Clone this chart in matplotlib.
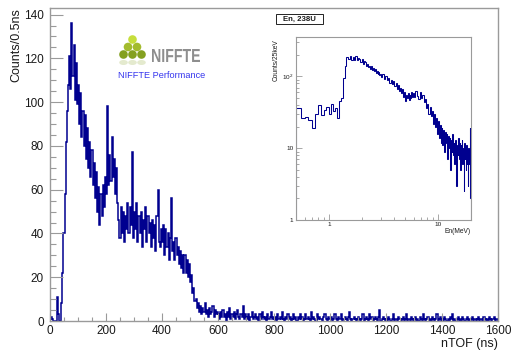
import numpy as np
import matplotlib
matplotlib.use("Agg")
import matplotlib.pyplot as plt
from matplotlib.patches import Circle, Ellipse, Rectangle, PathPatch
from matplotlib.textpath import TextPath
from matplotlib.font_manager import FontProperties
from matplotlib.transforms import Affine2D
from matplotlib.ticker import MultipleLocator, FixedLocator, FixedFormatter, NullFormatter

plt.rcParams['font.family'] = ['Liberation Sans', 'DejaVu Sans']
plt.rcParams['mathtext.fontset'] = 'custom'
plt.rcParams['mathtext.rm'] = 'Liberation Sans'

# ---------------- nTOF spectrum (4 ns bins, Counts/0.5ns scale) ----------------
tof_bin_ns = 4.0
tof_0_200 = [1, 2, 1, 0, 0, 0, 11, 3, 0, 0,
             8, 22, 40, 58, 82, 96, 108, 121, 106, 136,
             112, 126, 101, 118, 99, 108, 90, 104, 84, 96,
             80, 94, 74, 88, 70, 82, 66, 78, 62, 72,
             56, 68, 50, 61, 44, 58, 48, 62, 52, 66]
tof_200_400 = [58, 98, 62, 76, 64, 84, 66, 74, 58, 70,
               54, 46, 38, 52, 40, 50, 36, 48, 42, 54,
               40, 52, 44, 77, 38, 50, 42, 54, 36, 48,
               40, 50, 34, 46, 42, 52, 36, 48, 40, 45,
               34, 46, 38, 44, 32, 48, 60, 36, 34, 42]
tof_400_600 = [36, 44, 30, 42, 34, 40, 28, 38, 56, 32,
               36, 28, 38, 30, 34, 26, 32, 24, 30, 22,
               30, 22, 28, 20, 26, 18, 21, 13, 15, 9,
               10, 6, 8, 4, 7, 3, 6, 4, 8, 3,
               5, 2, 6, 3, 4, 7, 2, 5, 3, 4]
tof_600_800 = [3, 1, 4, 2, 5, 2, 3, 0, 4, 2, 6, 1, 3, 2, 4, 1, 3, 5, 2, 1, 3, 2, 7, 1, 3,
               2, 1, 3, 0, 2, 4, 1, 2, 3, 1, 2, 0, 3, 1, 4, 2, 1, 2, 0, 3, 1, 2, 4, 1, 2]
tof_800_1200 = [1, 2, 0, 3, 1, 2, 1, 4, 1, 0, 2, 1, 3, 1, 2, 0, 1, 3, 1, 2, 0, 2, 1, 3, 1,
                2, 0, 1, 3, 1, 2, 1, 0, 4, 1, 2, 1, 0, 3, 1, 2, 1, 1, 0, 2, 3, 1, 0, 2, 1,
                1, 2, 0, 1, 3, 1, 0, 2, 1, 1, 3, 0, 1, 2, 1, 0, 2, 4, 1, 0, 1, 2, 1, 0, 1,
                2, 1, 0, 1, 3, 0, 1, 2, 1, 0, 3, 1, 2, 0, 1, 2, 1, 0, 2, 5, 0, 1, 2, 1, 0]
tof_1200_1600 = [1, 0, 2, 1, 0, 1, 3, 0, 1, 1, 0, 2, 1, 0, 1, 2, 0, 1, 3, 0, 1, 0, 2, 1, 0,
                 1, 2, 0, 1, 0, 2, 1, 0, 3, 1, 0, 1, 2, 0, 1, 0, 2, 1, 0, 1, 3, 0, 1, 2, 0,
                 1, 0, 2, 1, 0, 1, 0, 2, 1, 3, 0, 1, 0, 1, 2, 0, 1, 0, 2, 1, 0, 1, 2, 0, 1,
                 0, 1, 2, 0, 1, 0, 1, 2, 0, 1, 1, 0, 2, 1, 0, 1, 0, 2, 1, 0, 1, 2, 0, 1, 1]

# ---------------- En spectrum (Counts/25keV) ----------------
en_low = [36, 26, 27, 25, 19, 30, 40, 29, 34, 38,
          30, 42, 33, 36, 26, 45, 50, 95, 140, 185]                 # 0.5 - 1.5 MeV
en_peak = [175, 190, 168, 185, 172, 195, 170, 182, 178, 160,
           176, 150, 165, 158, 140, 150, 135, 142, 128, 138,
           125, 130, 118, 126, 112, 120, 108, 115, 104, 110]       # 1.5 - 3 MeV
en_mid = [98, 108, 92, 100, 88, 95, 82, 90, 78, 86,
          74, 80, 68, 76, 62, 70, 58, 66, 52, 60,
          45, 56, 50, 58, 47, 56, 50, 60, 52, 58]                  # 3 - 6 MeV
en_high = [52, 62, 54, 48, 60, 50, 56, 44, 48, 36,
           42, 30, 38, 28, 33, 22, 30, 20, 26, 16,
           24, 14, 21, 12, 19, 11, 18, 9, 17, 12,
           16, 7, 15, 10, 14, 5, 13, 9, 16, 8,
           12, 6, 13, 9, 3, 11, 8, 14, 7, 12,
           5, 11, 8, 13, 6, 10, 2.5, 12, 7, 10,
           5, 11, 6, 9, 3, 10, 7, 6, 19, 2]                         # 6 - 20 MeV

hist_color = '#00008f'
frame_color = '#9a9a9a'
text_color = '#1a1a1a'

W, H = 511, 350
fig = plt.figure(figsize=(W / 100, H / 100), dpi=100)


def px_box(x0, y0, x1, y1):
    """Figure-fraction rectangle from pixel corners (y measured from top)."""
    return [x0 / W, 1 - y1 / H, (x1 - x0) / W, (y1 - y0) / H]


# ---------------- main histogram ----------------
ax = fig.add_axes(px_box(50, 8, 498, 321))
tof_counts = np.concatenate([tof_0_200, tof_200_400, tof_400_600,
                             tof_600_800, tof_800_1200, tof_1200_1600])
tof_edges = np.arange(len(tof_counts) + 1) * tof_bin_ns
ax.stairs(tof_counts, tof_edges, color=hist_color, lw=1.1)
ax.set_xlim(0, 1600)
ax.set_ylim(0, 143)
ax.xaxis.set_major_locator(MultipleLocator(200))
ax.xaxis.set_minor_locator(MultipleLocator(50))
ax.yaxis.set_major_locator(MultipleLocator(20))
ax.yaxis.set_minor_locator(MultipleLocator(5))
ax.tick_params(which='both', direction='in', color=frame_color, width=0.8,
               labelcolor=text_color, labelsize=8.5, top=False, right=False)
ax.tick_params(axis='x', which='major', length=5.8, pad=3)
ax.tick_params(axis='x', which='minor', length=2.9)
ax.tick_params(axis='y', which='major', length=9.2, pad=4.5)
ax.tick_params(axis='y', which='minor', length=4.2)
for s in ax.spines.values():
    s.set_color(frame_color)
    s.set_linewidth(1.0)
ax.set_ylabel('Counts/0.5ns', fontsize=9, loc='top', color=text_color)
ax.yaxis.set_label_coords(-0.062, 1.0)
ax.set_xlabel('nTOF (ns)', fontsize=9, loc='right', color=text_color)
ax.xaxis.set_label_coords(1.0, -0.054)

# ---------------- inset: neutron energy ----------------
en_edges = np.concatenate([np.linspace(0.5, 1.5, 21),
                           np.linspace(1.5, 3.0, 31)[1:],
                           np.linspace(3.0, 6.0, 31)[1:],
                           np.linspace(6.0, 20.0, 71)[1:]])
en_counts = np.concatenate([en_low, en_peak, en_mid, en_high])

axi = fig.add_axes(px_box(296, 37, 470.7, 220))
axi.stairs(en_counts, en_edges, color=hist_color, lw=0.75)
axi.set_xscale('log')
axi.set_yscale('log')
axi.set_xlim(0.5, 20)
axi.set_ylim(1, 355)
axi.xaxis.set_major_locator(FixedLocator([1, 10]))
axi.xaxis.set_major_formatter(FixedFormatter(['1', '10']))
axi.xaxis.set_minor_locator(FixedLocator([0.6, 0.7, 0.8, 0.9, 2, 3, 4, 5, 6, 7, 8, 9]))
axi.xaxis.set_minor_formatter(NullFormatter())
axi.yaxis.set_major_locator(FixedLocator([1, 10, 100]))
axi.yaxis.set_major_formatter(FixedFormatter(['1', '10', r'$10^{2}$']))
axi.yaxis.set_minor_locator(FixedLocator([2, 3, 4, 5, 6, 7, 8, 9,
                                          20, 30, 40, 50, 60, 70, 80, 90, 200, 300]))
axi.yaxis.set_minor_formatter(NullFormatter())
axi.tick_params(which='both', direction='in', color=frame_color, width=0.6,
                labelcolor=text_color, labelsize=4.6, top=False, right=False)
axi.tick_params(which='major', length=4.0, pad=1.8)
axi.tick_params(which='minor', length=2.2)
for s in axi.spines.values():
    s.set_color(frame_color)
    s.set_linewidth(0.8)
axi.set_ylabel('Counts/25keV', fontsize=4.8, loc='top', color=text_color)
axi.yaxis.set_label_coords(-0.092, 0.985)
axi.set_xlabel('En(MeV)', fontsize=4.8, loc='right', color=text_color)
axi.xaxis.set_label_coords(1.0, -0.042)

# inset title box
title_ax = fig.add_axes(px_box(0, 0, W, H))
title_ax.set_xlim(0, W)
title_ax.set_ylim(H, 0)
title_ax.axis('off')
title_ax.add_patch(Rectangle((276, 14), 47, 10, facecolor='white',
                             edgecolor='#222222', lw=0.7))
title_ax.text(299.5, 19.2, 'En, 238U', fontsize=5.6, fontweight='bold',
              ha='center', va='center', color=text_color)

# ---------------- NIFFTE logo ----------------
balls = [((132.5, 39.5), '#c6de3c'),
         ((128.0, 47.0), '#a3bb2e'), ((137.0, 47.0), '#a3bb2e'),
         ((123.5, 54.5), '#84a020'), ((132.5, 54.5), '#84a020'), ((141.5, 54.5), '#84a020')]
for (cx, cy), col in balls:
    title_ax.add_patch(Circle((cx, cy), 4.3, facecolor=col, edgecolor='none'))
for cx in (123.5, 132.5, 141.5):
    title_ax.add_patch(Ellipse((cx, 62.5), 8.6, 5.0, facecolor='#84a020',
                               edgecolor='none', alpha=0.22))

fp = FontProperties(family='Liberation Sans', weight='bold')
tp = TextPath((0, 0), 'NIFFTE', size=10, prop=fp)
bb = tp.get_extents()
sx = 48.0 / bb.width
sy = 13.0 / bb.height
tr = Affine2D().translate(-bb.x0, -bb.y0).scale(sx, -sy).translate(152, 62)
title_ax.add_patch(PathPatch(tr.transform_path(tp), facecolor='#8e8e8e',
                             edgecolor='none'))
title_ax.text(161.5, 76, 'NIFFTE Performance', fontsize=6.6, color='#3535ee',
              ha='center', va='center')

fig.savefig('out.png', dpi=100)
